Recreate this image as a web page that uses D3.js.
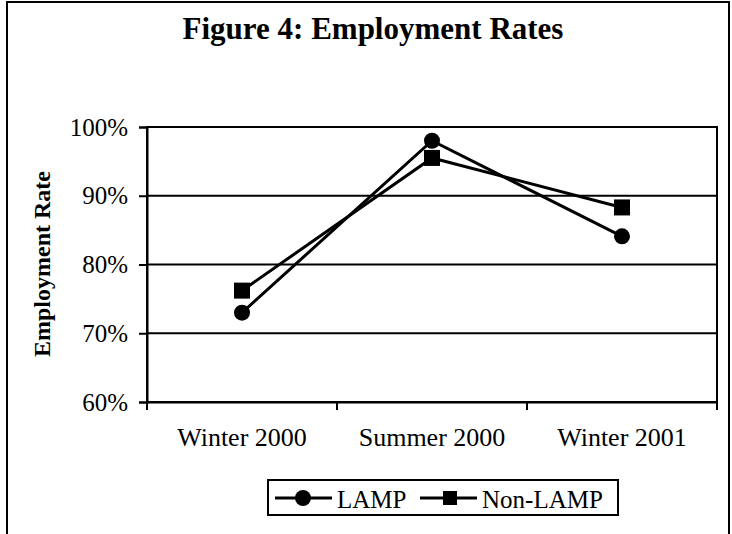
<!DOCTYPE html>
<html>
<head>
<meta charset="utf-8">
<script src="https://cdn.jsdelivr.net/npm/d3@7"></script>
<style>
  body { margin: 0; background: #fff; }
  svg { display: block; font-family: "Liberation Serif", "Times New Roman", serif; }
</style>
</head>
<body>
<svg id="svg" width="732" height="534"></svg>
<script>
// data
var categories = ["Winter 2000", "Summer 2000", "Winter 2001"]
var lampValues = [73, 98, 84.1]
var nonLampValues = [76.2, 95.5, 88.3]
var yTicks = [60, 70, 80, 90, 100]

var svg = d3.select("svg")
var margin = { left: 147, right: 15, top: 127, bottom: 132 }
var width = 732 - margin.left - margin.right, height = 534 - margin.top - margin.bottom

// outer frame of the figure
svg.append("rect").attr("x", 7).attr("y", 2).attr("width", 722).attr("height", 540)
    .attr("fill", "none").attr("stroke", "#000").attr("stroke-width", 2)

svg.append("text").attr("x", 373).attr("y", 39).attr("text-anchor", "middle")
    .attr("font-size", 31).attr("font-weight", "bold").text("Figure 4: Employment Rates")

var g = svg.append("g").attr("transform", "translate(" + margin.left + "," + margin.top + ")")

var x = d3.scaleBand().domain(categories).range([0, width])
var y = d3.scaleLinear().domain([60, 100]).range([height, 0])

// gridlines
g.selectAll(".grid").data(yTicks.slice(1)).enter().append("line")
    .attr("x1", 0).attr("x2", width)
    .attr("y1", d => y(d)).attr("y2", d => y(d))
    .attr("stroke", "#000").attr("stroke-width", 2)

// plot border
g.append("rect").attr("width", width).attr("height", height)
    .attr("fill", "none").attr("stroke", "#000").attr("stroke-width", 2)

// y axis
var yAxis = g.append("g").call(d3.axisLeft(y).tickValues(yTicks).tickSize(8).tickPadding(11).tickFormat(d => d + "%"))
yAxis.select(".domain").attr("stroke-width", 2)
yAxis.selectAll(".tick line").attr("stroke-width", 2)
yAxis.selectAll("text").attr("font-size", 25).attr("font-family", "Liberation Serif").attr("fill", "#000")

// x axis: ticks sit at the category boundaries
var xAxis = g.append("g").attr("transform", "translate(0," + height + ")")
    .call(d3.axisBottom(x).tickSize(0).tickPadding(26))
xAxis.select(".domain").attr("stroke-width", 2)
xAxis.selectAll("text").attr("font-size", 26).attr("font-family", "Liberation Serif").attr("fill", "#000")
var bounds = categories.map(c => x(c)).concat([width])
g.selectAll(".xtick").data(bounds).enter().append("line")
    .attr("x1", d => d).attr("x2", d => d).attr("y1", height).attr("y2", height + 8)
    .attr("stroke", "#000").attr("stroke-width", 2)

svg.append("text").attr("transform", "translate(50,264) rotate(-90)")
    .attr("text-anchor", "middle").attr("font-size", 24).attr("font-weight", "bold").text("Employment Rate")

var line = d3.line().x((d, i) => x(categories[i]) + x.bandwidth() / 2).y(d => y(d))

g.append("path").datum(lampValues).attr("d", line).attr("fill", "none").attr("stroke", "#000").attr("stroke-width", 3)
g.append("path").datum(nonLampValues).attr("d", line).attr("fill", "none").attr("stroke", "#000").attr("stroke-width", 3)

g.selectAll(".lamp").data(lampValues).enter().append("circle")
    .attr("cx", (d, i) => x(categories[i]) + x.bandwidth() / 2).attr("cy", d => y(d)).attr("r", 8)
g.selectAll(".nonlamp").data(nonLampValues).enter().append("rect")
    .attr("x", (d, i) => x(categories[i]) + x.bandwidth() / 2 - 8).attr("y", d => y(d) - 8)
    .attr("width", 16).attr("height", 16)

// legend
var leg = svg.append("g").attr("transform", "translate(268,480)")
leg.append("rect").attr("width", 350).attr("height", 35).attr("fill", "#fff").attr("stroke", "#000").attr("stroke-width", 2)
leg.append("line").attr("x1", 7).attr("x2", 64).attr("y1", 18).attr("y2", 18).attr("stroke", "#000").attr("stroke-width", 3)
leg.append("circle").attr("cx", 35).attr("cy", 18).attr("r", 8)
leg.append("text").attr("x", 69).attr("y", 28).attr("font-size", 25).text("LAMP")
leg.append("line").attr("x1", 152).attr("x2", 209).attr("y1", 18).attr("y2", 18).attr("stroke", "#000").attr("stroke-width", 3)
leg.append("rect").attr("x", 175).attr("y", 11).attr("width", 14).attr("height", 14)
leg.append("text").attr("x", 214).attr("y", 28).attr("font-size", 25).text("Non-LAMP")
</script>
</body>
</html>
